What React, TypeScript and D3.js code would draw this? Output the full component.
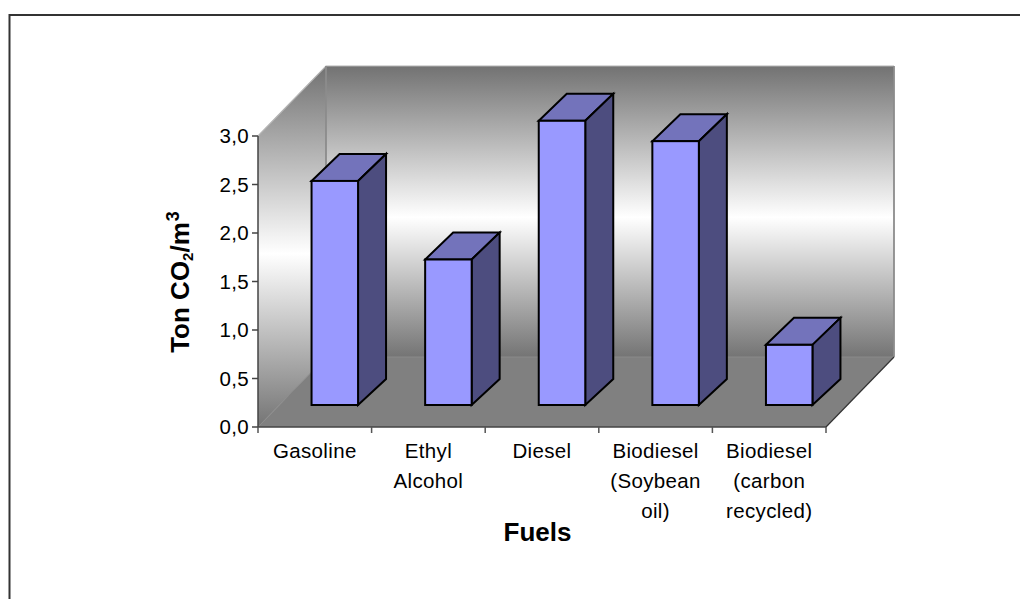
import React from "react";
import * as d3 from "d3";

const categories = ["Gasoline", "Ethyl Alcohol", "Diesel", "Biodiesel (Soybean oil)", "Biodiesel (carbon recycled)"];
const categoryLines = [["Gasoline"], ["Ethyl", "Alcohol"], ["Diesel"], ["Biodiesel", "(Soybean", "oil)"], ["Biodiesel", "(carbon", "recycled)"]];
const emissions = [2.31, 1.5, 2.93, 2.72, 0.62];
const yTicks = [0, 0.5, 1, 1.5, 2, 2.5, 3];

const WIDTH = 1020;
const HEIGHT = 599;
const FONT = "'Liberation Sans', Arial, sans-serif";

// Oblique projection of the chart box
const plot = { left: 258, right: 826, top: 136, bottom: 427 };
const wallDepth = { dx: 68, dy: -70 };
const barDepth = { dx: 28, topDy: -27, baseDy: -26 };
const barLift = 22;
const barShift = 20;
const barWidth = 46.5;

const x = d3.scaleBand<string>().domain(categories).range([plot.left, plot.right]);
const y = d3.scaleLinear().domain([0, 3]).range([plot.bottom, plot.top]);

const poly = (pts: [number, number][]) => {
  const line = d3.line();
  return line(pts) + "Z";
};

const wallStops: [number, string][] = [
  [0, "#727272"],
  [0.52, "#ffffff"],
  [1, "#747474"],
];

export default function App() {
  const backL = plot.left + wallDepth.dx;
  const backR = plot.right + wallDepth.dx;
  const backT = plot.top + wallDepth.dy;
  const backB = plot.bottom + wallDepth.dy;

  return (
    <svg
      width={WIDTH}
      height={HEIGHT}
      style={{ position: "absolute", left: 0, top: 0, display: "block", background: "#fff" }}
      fontFamily={FONT}
    >
      <defs>
        <linearGradient id="backWall" x1="0" y1="0" x2="0" y2="1">
          {wallStops.map(([o, c]) => (
            <stop key={o} offset={o} stopColor={c} />
          ))}
        </linearGradient>
        <linearGradient id="sideWall" gradientUnits="userSpaceOnUse" x1="0" y1={backT} x2="0" y2={plot.bottom}>
          {wallStops.map(([o, c]) => (
            <stop key={o} offset={o} stopColor={c} />
          ))}
        </linearGradient>
      </defs>

      {/* outer frame, open at the right and bottom */}
      <path d={`M9.5,${HEIGHT}V15H${WIDTH}`} fill="none" stroke="#333" strokeWidth={2} />

      {/* walls and floor */}
      <path d={poly([[backL, backT], [backR, backT], [backR, backB], [backL, backB]])} fill="url(#backWall)" />
      <path
        d={poly([[plot.left, plot.top], [backL, backT], [backL, backB], [plot.left, plot.bottom]])}
        fill="url(#sideWall)"
      />
      <path
        d={poly([[plot.left, plot.bottom], [backL, backB], [backR, backB], [plot.right, plot.bottom]])}
        fill="#808080"
      />
      <path d={`M${plot.left},${plot.top}L${backL},${backT}H${backR}`} fill="none" stroke="#b4b4b4" strokeWidth={1.2} />
      <path d={`M${backL},${backT}V${backB}M${backR},${backT}V${backB}`} fill="none" stroke="#8c8c8c" strokeWidth={1.8} />
      <path d={`M${backL},${backB}H${backR}`} fill="none" stroke="#8a8a8a" strokeWidth={1} />
      <path d={`M${plot.left},${plot.bottom}L${backL},${backB}`} fill="none" stroke="#8a8a8a" strokeWidth={1} />
      <path d={`M${plot.right},${plot.bottom}L${backR},${backB}`} fill="none" stroke="#333" strokeWidth={1.2} />

      {/* bars */}
      {categories.map((c, i) => {
        const x0 = (x(c) as number) + x.bandwidth() / 2 + barShift - barWidth / 2;
        const x1 = x0 + barWidth;
        const yTop = y(emissions[i]) - barLift;
        const yBase = y(0) - barLift;
        const { dx, topDy, baseDy } = barDepth;
        return (
          <g key={c} stroke="#000" strokeWidth={2} strokeLinejoin="miter">
            <path d={poly([[x0, yTop], [x1, yTop], [x1 + dx, yTop + topDy], [x0 + dx, yTop + topDy]])} fill="#7373bb" />
            <path d={poly([[x1, yTop], [x1 + dx, yTop + topDy], [x1 + dx, yBase + baseDy], [x1, yBase]])} fill="#4d4d7f" />
            <rect x={x0} y={yTop} width={barWidth} height={yBase - yTop} fill="#9999ff" />
          </g>
        );
      })}

      {/* axes */}
      <path
        d={`M${plot.left},${plot.top}V${plot.bottom}H${plot.right}`}
        fill="none"
        stroke="#444"
        strokeWidth={1.5}
      />
      {yTicks.map((t) => (
        <g key={t}>
          <line x1={plot.left - 6} x2={plot.left} y1={y(t)} y2={y(t)} stroke="#444" strokeWidth={1.5} />
          <text x={plot.left - 9} y={y(t) + 7} textAnchor="end" fontSize={20.5} letterSpacing={0.35} fill="#000">
            {d3.format(".1f")(t).replace(".", ",")}
          </text>
        </g>
      ))}
      {[...categories.map((c) => x(c) as number), plot.right].map((tx) => (
        <line key={tx} x1={tx} x2={tx} y1={plot.bottom} y2={plot.bottom + 6} stroke="#555" strokeWidth={1.5} />
      ))}
      {categories.map((c, i) => (
        <text key={c} textAnchor="middle" fontSize={20.5} letterSpacing={0.35} fill="#000">
          {categoryLines[i].map((l, j) => (
            <tspan key={l} x={(x(c) as number) + x.bandwidth() / 2} y={458 + j * 30}>
              {l}
            </tspan>
          ))}
        </text>
      ))}

      {/* axis titles */}
      <text x={537.5} y={541} textAnchor="middle" fontSize={26} fontWeight="bold" fill="#000">
        Fuels
      </text>
      <text
        transform="translate(189,282) rotate(-90)"
        textAnchor="middle"
        fontSize={26}
        fontWeight="bold"
        fill="#000"
      >
        Ton CO
        <tspan fontSize={15} dy={4}>2</tspan>
        <tspan dy={-4}>/m</tspan>
        <tspan fontSize={18} dx={1} dy={-10}>3</tspan>
      </text>
    </svg>
  );
}
